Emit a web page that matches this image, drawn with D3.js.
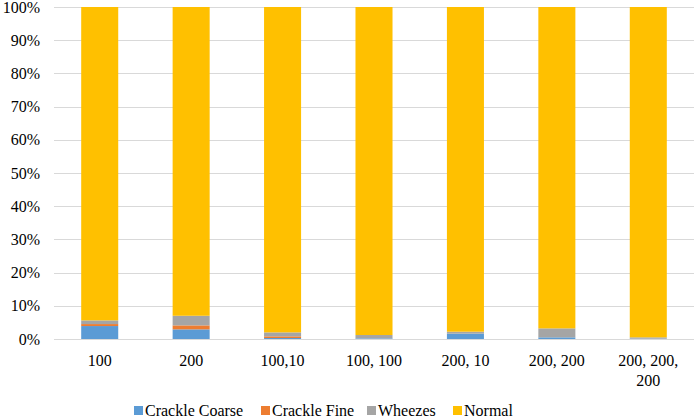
<!DOCTYPE html>
<html>
<head>
<meta charset="utf-8">
<script src="https://cdn.jsdelivr.net/npm/d3@7/dist/d3.min.js"></script>
<style>
  body { margin: 0; background: #fff; }
  svg text { font-family: "Liberation Serif" !important; }
</style>
</head>
<body>
<div id="chart"></div>
<script>
var categories = ['100', '200', '100,10', '100, 100', '200, 10', '200, 200', '200, 200, 200'];
var seriesNames = ['Crackle Coarse', 'Crackle Fine', 'Wheezes', 'Normal'];
var crackleCoarse = [3.9, 2.9, 0.3, 0.2, 1.6, 0.5, 0.1];
var crackleFine = [0.6, 1.2, 0.5, 0.0, 0.0, 0.0, 0.0];
var wheezes = [1.1, 2.9, 1.2, 1.0, 0.6, 2.7, 0.4];
var normal = categories.map(function (c, i) {
    return 100 - crackleCoarse[i] - crackleFine[i] - wheezes[i];
});
var yTicks = [0, 10, 20, 30, 40, 50, 60, 70, 80, 90, 100];
var colors = ['#5B9BD5', '#ED7D31', '#A5A5A5', '#FFC000'];

var width = 694;
var height = 420;
var margin = { top: 7, right: 0, bottom: 81, left: 54 };

var rows = categories.map(function (c, i) {
    return {
        cat: c,
        'Crackle Coarse': crackleCoarse[i],
        'Crackle Fine': crackleFine[i],
        'Wheezes': wheezes[i],
        'Normal': normal[i]
    };
});

var svg = d3.select('#chart').append('svg')
    .attr('width', width)
    .attr('height', height);

var x = d3.scaleBand()
    .domain(categories)
    .range([margin.left, width - margin.right])
    .paddingInner(0.595)
    .paddingOuter(0.2975);

var y = d3.scaleLinear()
    .domain([0, 100])
    .range([height - margin.bottom, margin.top]);

// gridlines
svg.append('g')
    .selectAll('line')
    .data(yTicks)
    .enter()
    .append('line')
    .attr('x1', margin.left)
    .attr('x2', width - margin.right)
    .attr('y1', function (d) { return Math.round(y(d)) + 0.5; })
    .attr('y2', function (d) { return Math.round(y(d)) + 0.5; })
    .attr('stroke', '#D9D9D9')
    .attr('stroke-width', 1);

// y tick labels
svg.append('g')
    .selectAll('text')
    .data(yTicks)
    .enter()
    .append('text')
    .attr('x', 40)
    .attr('y', function (d) { return y(d); })
    .attr('dy', '0.35em')
    .attr('text-anchor', 'end')
    .attr('font-family', 'Liberation Serif')
    .attr('font-size', 16)
    .text(function (d) { return d + '%'; });

var stack = d3.stack().keys(seriesNames);
var layers = stack(rows);

svg.append('g')
    .selectAll('g')
    .data(layers)
    .enter()
    .append('g')
    .attr('fill', function (d, i) { return colors[i]; })
    .selectAll('rect')
    .data(function (d) { return d; })
    .enter()
    .append('rect')
    .attr('x', function (d) { return x(d.data.cat); })
    .attr('width', x.bandwidth())
    .attr('y', function (d) { return y(d[1]); })
    .attr('height', function (d) { return y(d[0]) - y(d[1]); });

// category labels, the long one wraps after its 2nd comma
var catG = svg.append('g');
categories.forEach(function (c) {
    var parts = c.split(', ');
    var lines = parts.length > 2 ? [parts.slice(0, 2).join(', ') + ',', parts.slice(2).join(', ')] : [c];
    var t = catG.append('text')
        .attr('text-anchor', 'middle')
        .attr('font-family', 'Liberation Serif')
        .attr('font-size', 16)
        .attr('x', x(c) + x.bandwidth() / 2)
        .attr('y', 366);
    lines.forEach(function (l, i) {
        t.append('tspan')
            .attr('x', x(c) + x.bandwidth() / 2)
            .attr('dy', i === 0 ? 0 : 20)
            .text(l);
    });
});

// legend
var legendX = [134, 261, 367, 453];
var legend = svg.append('g');
seriesNames.forEach(function (name, i) {
    legend.append('rect')
        .attr('x', legendX[i])
        .attr('y', 406)
        .attr('width', 9)
        .attr('height', 9)
        .attr('fill', colors[i]);
    legend.append('text')
        .attr('x', legendX[i] + 11)
        .attr('y', 416)
        .attr('font-family', 'Liberation Serif')
        .attr('font-size', 16)
        .text(name);
});
</script>
</body>
</html>
